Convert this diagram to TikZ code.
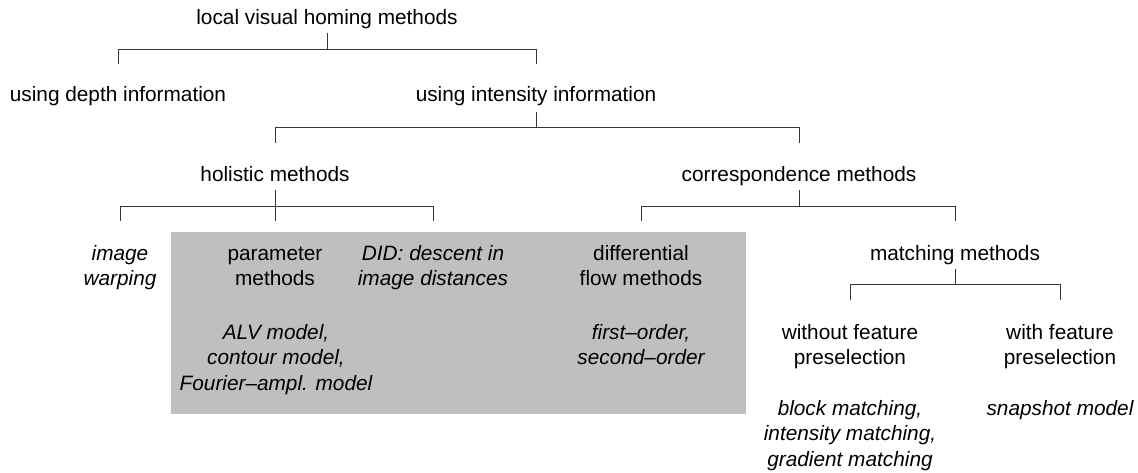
\documentclass[tikz,border=0pt]{standalone}
\usepackage{fontspec}
\setmainfont{Liberation Sans}
\usepackage{tikz}
\usetikzlibrary{calc}
\definecolor{panelGray}{RGB}{191,191,191}
\definecolor{lineGray}{RGB}{55,55,55}

\begin{document}
\begin{tikzpicture}[x=1pt,y=-1pt,
  every node/.style={font=\fontsize{20.8}{25.5}\selectfont,inner sep=0pt,align=center,anchor=base},
  leaf/.style={font=\fontsize{20.8}{25.5}\selectfont\itshape},
  branch/.style={draw=lineGray,line width=0.8pt}]
  \useasboundingbox (0,0) rectangle (1138,472);
  % shaded block behind the gradient-free group
  \fill[panelGray](171,232) rectangle (746,414);
  % bar levels
  \coordinate (bar1) at (0,49);
  \coordinate (bar2) at (0,127);
  \coordinate (bar3) at (0,206);
  \coordinate (bar5) at (0,284);
  % top levels (base = baseline of last line)
  \node (lvh) at (327,24){local visual homing methods};
  \node (depth) at (118,101){using depth information};
  \node (intens) at (536,101){using intensity information};
  \node (holist) at (275,181){holistic methods};
  \node (corresp) at (799,181){correspondence methods};
  % method families
  \node[leaf] (warp) at (120,285.5){image\\warping};
  \node (param) at (275,285.5){parameter\\methods};
  \node[leaf] (did) at (433,285.5){DID: descent in\\image distances};
  \node (diff) at (641,285.5){differential\\flow methods};
  \node (match) at (955,260){matching methods};
  \node (nosel) at (850,364.5){without feature\\preselection};
  \node (withsel) at (1060,364.5){with feature\\preselection};
  % examples
  \node[leaf] (alv) at (276,390){ALV model,\\contour model,\\Fourier--ampl. model};
  \node[leaf] (order) at (641,364.5){first--order,\\second--order};
  \node[leaf] (block) at (850,466){block matching,\\intensity matching,\\gradient matching};
  \node[leaf] (snap) at (1060,415){snapshot model};
  % brackets
  \draw[branch]([yshift=-9pt]lvh.base) -- (lvh |- bar1);
  \draw[branch]([yshift=37pt]depth.base) -- (depth |- bar1) -- (intens |- bar1) -- ([yshift=37pt]intens.base);
  \draw[branch]([yshift=-11pt]intens.base) -- (intens |- bar2);
  \draw[branch]([yshift=38pt]holist.base) -- (holist |- bar2) -- (corresp |- bar2) -- ([yshift=38pt]corresp.base);
  \draw[branch]([yshift=-9pt]holist.base) -- ([yshift=64.5pt]param.base);
  \draw[branch]([yshift=64.5pt]warp.base) -- (warp |- bar3) -- (did |- bar3) -- ([yshift=64.5pt]did.base);
  \draw[branch]([yshift=-9pt]corresp.base) -- (corresp |- bar3);
  \draw[branch]([yshift=64.5pt]diff.base) -- (diff |- bar3) -- (match |- bar3) -- ([yshift=39pt]match.base);
  \draw[branch]([yshift=-9pt]match.base) -- (match |- bar5);
  \draw[branch]([yshift=64.5pt]nosel.base) -- (nosel |- bar5) -- (withsel |- bar5) -- ([yshift=64.5pt]withsel.base);
\end{tikzpicture}
\end{document}
